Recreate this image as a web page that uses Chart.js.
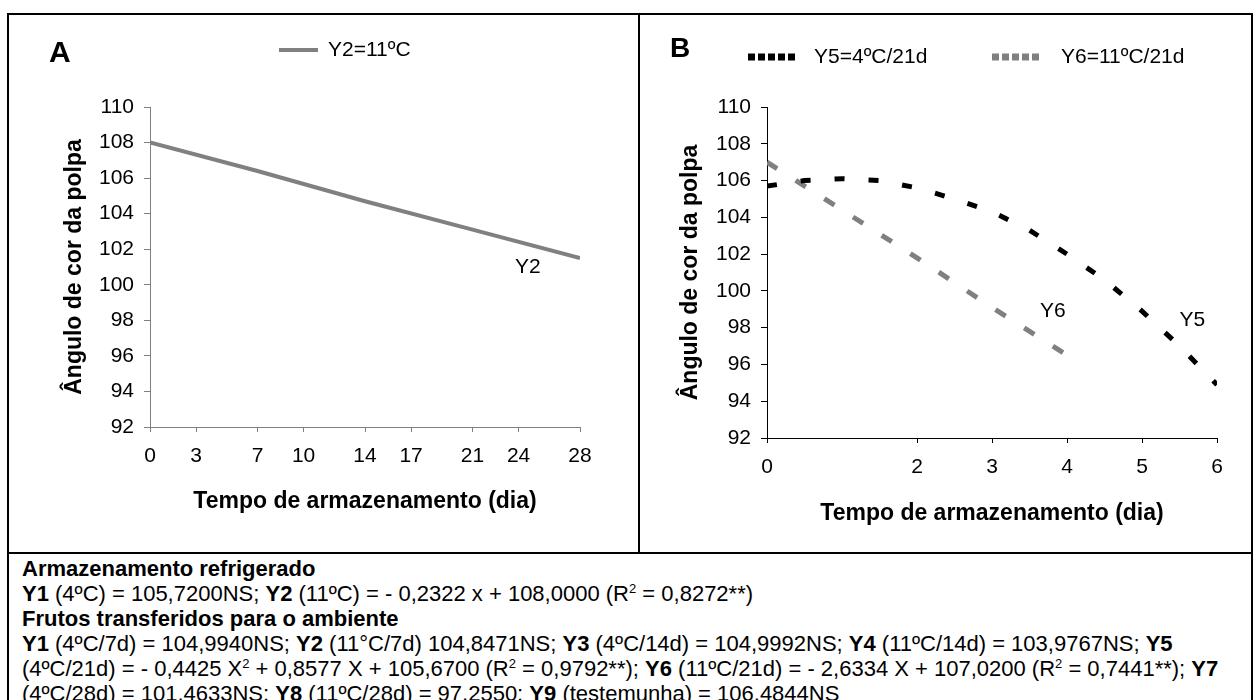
<!DOCTYPE html>
<html>
<head>
<meta charset="utf-8">
<script src="https://cdn.jsdelivr.net/npm/chart.js@4.4.1/dist/chart.umd.min.js"></script>
<style>
  html, body { margin: 0; padding: 0; background: #fff; overflow: hidden; }
  body { width: 1260px; height: 700px; position: relative; font-family: "Liberation Sans", Arial, sans-serif; color: #000; }
  #frame { position: absolute; left: 7px; top: 13px; width: 1242px; height: 720px; border: 2px solid #000; }
  #vline { position: absolute; left: 638px; top: 15px; width: 2px; height: 538px; background: #000; }
  #hline { position: absolute; left: 9px; top: 552px; width: 1242px; height: 2px; background: #000; }
  canvas { position: absolute; top: 15px; }
  #chartA { left: 9px; }
  #chartB { left: 640px; }
  #notes { position: absolute; left: 22px; top: 556px; font-size: 22px; line-height: 25px; white-space: nowrap; }
  #notes sup { font-size: 13px; line-height: 0; vertical-align: 8px; }
</style>
</head>
<body>
<div id="frame"></div>
<canvas id="chartA" width="629" height="537"></canvas>
<canvas id="chartB" width="611" height="537"></canvas>
<div id="vline"></div>
<div id="hline"></div>
<div id="notes">
  <div><b>Armazenamento refrigerado</b></div>
  <div><b>Y1</b> (4ºC) = 105,7200NS; <b>Y2</b> (11ºC) = - 0,2322 x + 108,0000 (R<sup>2</sup> = 0,8272**)</div>
  <div><b>Frutos transferidos para o ambiente</b></div>
  <div><b>Y1</b> (4ºC/7d) = 104,9940NS; <b>Y2</b> (11°C/7d) 104,8471NS; <b>Y3</b> (4ºC/14d) = 104,9992NS; <b>Y4</b> (11ºC/14d) = 103,9767NS; <b>Y5</b></div>
  <div>(4ºC/21d) = - 0,4425 X<sup>2</sup> + 0,8577 X + 105,6700 (R<sup>2</sup> = 0,9792**); <b>Y6</b> (11ºC/21d) = - 2,6334 X + 107,0200 (R<sup>2</sup> = 0,7441**); <b>Y7</b></div>
  <div>(4ºC/28d) = 101,4633NS; <b>Y8</b> (11ºC/28d) = 97,2550; <b>Y9</b> (testemunha) = 106,4844NS</div>
</div>
<script>
// panel A: refrigerated storage, days
const daysA = [0, 7, 14, 21, 28];
const y2Values = [108.0, 106.4, 104.7, 103.1, 101.5];
const xTicksA = [0, 3, 7, 10, 14, 17, 21, 24, 28];

// panel B: days at room temperature after 21 d
const daysY5 = [0, 0.5, 1, 1.5, 2, 2.5, 3, 3.5, 4, 4.5, 5, 5.5, 6];
const y5Values = [105.7, 106.0, 106.1, 106.0, 105.6, 105.0, 104.3, 103.3, 102.0, 100.6, 98.9, 97.0, 94.9];
const daysY6 = [0, 1, 2, 3, 4];
const y6Values = [107.0, 104.4, 101.8, 99.1, 96.5];
const xTicksB = [0, 2, 3, 4, 5, 6];

const yMin = 92, yMax = 110, yStep = 2;

const FONT = '"Liberation Sans", Arial, sans-serif';
Chart.defaults.font.family = FONT;
Chart.defaults.color = '#000';

function pts(xs, ys) {
  return xs.map((x, i) => ({ x: x, y: ys[i] }));
}

// letters, legend markers and curve tags
const panelMarks = {
  id: 'panelMarks',
  afterDraw(chart, args, opts) {
    const ctx = chart.ctx;
    const xs = chart.scales.x, ys = chart.scales.y;
    ctx.save();
    ctx.fillStyle = '#000';
    ctx.font = 'bold ' + opts.letterSize + 'px ' + FONT;
    ctx.textBaseline = 'alphabetic';
    ctx.fillText(opts.letter, opts.letterX, opts.letterY);

    ctx.font = '21px ' + FONT;
    ctx.textBaseline = 'middle';
    opts.legend.forEach(item => {
      const ds = chart.data.datasets[item.dataset];
      ctx.beginPath();
      ctx.strokeStyle = ds.borderColor;
      ctx.lineWidth = item.lineWidth;
      ctx.setLineDash(item.dash || []);
      ctx.moveTo(item.x, item.y);
      ctx.lineTo(item.x + item.w, item.y);
      ctx.stroke();
      ctx.setLineDash([]);
      ctx.fillText(ds.label, item.textX, item.y);
    });

    ctx.textAlign = 'center';
    opts.tags.forEach(t => {
      ctx.fillText(t.text, xs.getPixelForValue(t.x), ys.getPixelForValue(t.y));
    });
    ctx.restore();
  }
};

function scales(o) {
  return {
    x: {
      type: 'linear', min: o.xMin, max: o.xMax,
      afterBuildTicks: s => { s.ticks = o.xTicks.map(v => ({ value: v })); },
      afterFit: s => { s.height = o.xHeight; },
      border: { color: o.axisColor, width: 1 },
      grid: { drawOnChartArea: false, tickLength: 5, color: o.axisColor },
      ticks: { color: '#000', font: { size: 21 }, padding: 12, maxRotation: 0, autoSkip: false, callback: v => String(v) },
      title: { display: true, text: 'Tempo de armazenamento (dia)', color: '#000',
               font: { size: 23, weight: 'bold' }, padding: { top: 0, bottom: o.xTitlePad } }
    },
    y: {
      min: yMin, max: yMax,
      afterFit: s => { s.width = o.yWidth; },
      border: { color: o.axisColor, width: 1 },
      grid: { drawOnChartArea: false, tickLength: 6, color: o.axisColor },
      ticks: { stepSize: yStep, color: '#000', font: { size: 21 }, padding: 10 },
      title: { display: true, text: 'Ângulo de cor da polpa', color: '#000',
               font: { size: 23, weight: 'bold' }, padding: { top: o.yTitlePad, bottom: 0 } }
    }
  };
}

new Chart(document.getElementById('chartA'), {
  type: 'line',
  data: {
    datasets: [{
      label: 'Y2=11ºC',
      data: pts(daysA, y2Values),
      borderColor: '#808080', borderWidth: 4, pointRadius: 0, fill: false
    }]
  },
  options: {
    responsive: false, animation: false, devicePixelRatio: 1,
    layout: { padding: { left: 0, top: 92, right: 58, bottom: 0 } },
    scales: scales({ xMin: 0, xMax: 28, xTicks: xTicksA, xHeight: 125, yWidth: 141,
                     axisColor: '#808080', xTitlePad: 37, yTitlePad: 52 }),
    plugins: {
      legend: { display: false }, tooltip: { enabled: false },
      panelMarks: {
        letter: 'A', letterSize: 30, letterX: 40, letterY: 47,
        legend: [{ dataset: 0, x: 270, y: 35, w: 39, lineWidth: 4, textX: 319 }],
        tags: [{ text: 'Y2', x: 24.6, y: 101.0 }]
      }
    }
  },
  plugins: [panelMarks]
});

new Chart(document.getElementById('chartB'), {
  type: 'line',
  data: {
    datasets: [{
      label: 'Y5=4ºC/21d',
      data: pts(daysY5, y5Values),
      borderColor: '#000000', borderWidth: 5, borderDash: [10, 24], borderCapStyle: 'butt',
      pointRadius: 0, fill: false
    }, {
      label: 'Y6=11ºC/21d',
      data: pts(daysY6, y6Values),
      borderColor: '#808080', borderWidth: 5, borderDash: [12, 22], borderCapStyle: 'butt',
      pointRadius: 0, fill: false
    }]
  },
  options: {
    responsive: false, animation: false, devicePixelRatio: 1,
    layout: { padding: { left: 0, top: 92, right: 34, bottom: 0 } },
    scales: scales({ xMin: 0, xMax: 6, xTicks: xTicksB, xHeight: 114, yWidth: 127,
                     axisColor: '#000000', xTitlePad: 25, yTitlePad: 37 }),
    plugins: {
      legend: { display: false }, tooltip: { enabled: false },
      panelMarks: {
        letter: 'B', letterSize: 28, letterX: 30, letterY: 42,
        legend: [
          { dataset: 0, x: 108, y: 42, w: 50, lineWidth: 7, dash: [7, 3], textX: 174 },
          { dataset: 1, x: 352, y: 42, w: 50, lineWidth: 7, dash: [7, 3], textX: 421 }
        ],
        tags: [{ text: 'Y6', x: 3.81, y: 98.9 }, { text: 'Y5', x: 5.67, y: 98.4 }]
      }
    }
  },
  plugins: [panelMarks]
});
</script>
</body>
</html>
